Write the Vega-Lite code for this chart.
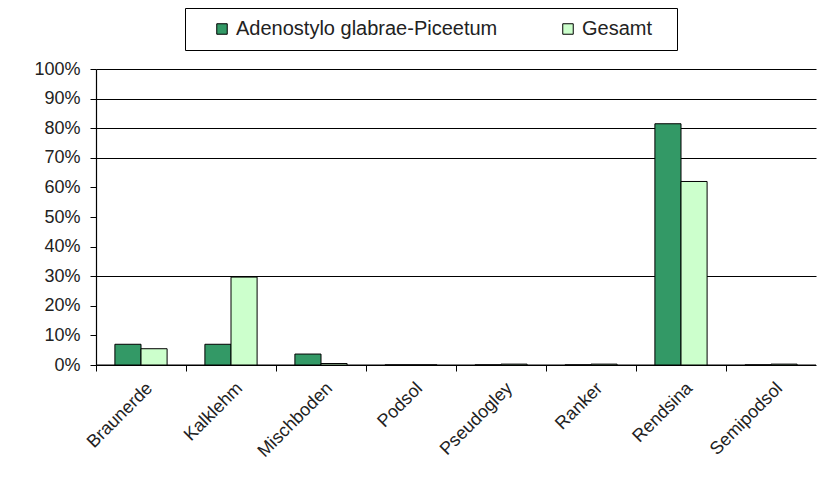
{
  "$schema": "https://vega.github.io/schema/vega-lite/v6.json",
  "autosize": "none",
  "width": 720,
  "height": 296,
  "padding": {"left": 96, "top": 69, "right": 4, "bottom": 119},
  "background": "white",
  "config": {"view": {"stroke": null}, "font": "Liberation Sans"},
  "data": {
    "values": [
      {"soil": "Braunerde", "series": "Adenostylo glabrae-Piceetum", "value": 0.07},
      {"soil": "Braunerde", "series": "Gesamt", "value": 0.055},
      {"soil": "Kalklehm", "series": "Adenostylo glabrae-Piceetum", "value": 0.07},
      {"soil": "Kalklehm", "series": "Gesamt", "value": 0.297},
      {"soil": "Mischboden", "series": "Adenostylo glabrae-Piceetum", "value": 0.037},
      {"soil": "Mischboden", "series": "Gesamt", "value": 0.005},
      {"soil": "Podsol", "series": "Adenostylo glabrae-Piceetum", "value": 0},
      {"soil": "Podsol", "series": "Gesamt", "value": 0},
      {"soil": "Pseudogley", "series": "Adenostylo glabrae-Piceetum", "value": 0},
      {"soil": "Pseudogley", "series": "Gesamt", "value": 0.003},
      {"soil": "Ranker", "series": "Adenostylo glabrae-Piceetum", "value": 0},
      {"soil": "Ranker", "series": "Gesamt", "value": 0.003},
      {"soil": "Rendsina", "series": "Adenostylo glabrae-Piceetum", "value": 0.815},
      {"soil": "Rendsina", "series": "Gesamt", "value": 0.62},
      {"soil": "Semipodsol", "series": "Adenostylo glabrae-Piceetum", "value": 0},
      {"soil": "Semipodsol", "series": "Gesamt", "value": 0.003}
    ]
  },
  "layer": [
    {
      "data": {"values": [{}]},
      "mark": {"type": "rule", "color": "#000", "strokeWidth": 1},
      "encoding": {
        "y": {
          "datum": 0,
          "type": "quantitative",
          "scale": {"domain": [0, 1], "nice": false},
          "axis": {
            "orient": "right",
            "values": [0.3, 0.7, 0.8, 0.9, 1],
            "grid": true,
            "gridColor": "#000",
            "gridOpacity": 1,
            "gridWidth": 1.2,
            "domain": false,
            "ticks": false,
            "labels": false,
            "title": null
          }
        }
      }
    },
    {
      "mark": {"type": "bar", "stroke": "#000", "strokeWidth": 1},
      "encoding": {
        "x": {
          "field": "soil",
          "type": "nominal",
          "sort": null,
          "scale": {"paddingInner": 0.42, "paddingOuter": 0.21},
          "axis": {
            "title": null,
            "labelAngle": -45,
            "labelFontSize": 18,
            "labelColor": "#222",
            "tickOffset": -45,
            "labelOffset": 47,
            "tickSize": 6,
            "tickColor": "#000",
            "domainColor": "#000",
            "domainWidth": 1.2,
            "labelPadding": 8,
            "grid": false
          }
        },
        "xOffset": {
          "field": "series",
          "sort": ["Adenostylo glabrae-Piceetum", "Gesamt"],
          "scale": {"paddingInner": 0, "paddingOuter": 0}
        },
        "y": {
          "field": "value",
          "type": "quantitative",
          "scale": {"domain": [0, 1], "nice": false},
          "axis": {
            "orient": "left",
            "values": [0, 0.1, 0.2, 0.3, 0.4, 0.5, 0.6, 0.7, 0.8, 0.9, 1],
            "format": ".0%",
            "grid": false,
            "title": null,
            "tickSize": 6,
            "tickColor": "#000",
            "domainColor": "#000",
            "domainWidth": 1.2,
            "labelFontSize": 18,
            "labelColor": "#222",
            "labelPadding": 10
          }
        },
        "color": {
          "field": "series",
          "type": "nominal",
          "scale": {
            "domain": ["Adenostylo glabrae-Piceetum", "Gesamt"],
            "range": ["#339966", "#ccffcc"]
          },
          "legend": {
            "title": " ",
            "titleOrient": "right",
            "titlePadding": 14,
            "orient": "none",
            "legendX": 89,
            "legendY": -61,
            "direction": "horizontal",
            "strokeColor": "#000",
            "fillColor": "#fff",
            "padding": 11,
            "symbolType": "square",
            "symbolSize": 110,
            "symbolStrokeColor": "#000",
            "symbolStrokeWidth": 1,
            "symbolOpacity": 1,
            "labelFontSize": 20,
            "labelColor": "#222",
            "labelLimit": 400,
            "columnPadding": 44,
            "symbolOffset": 16
          }
        }
      }
    }
  ],
  "resolve": {"axis": {"y": "independent"}}
}
